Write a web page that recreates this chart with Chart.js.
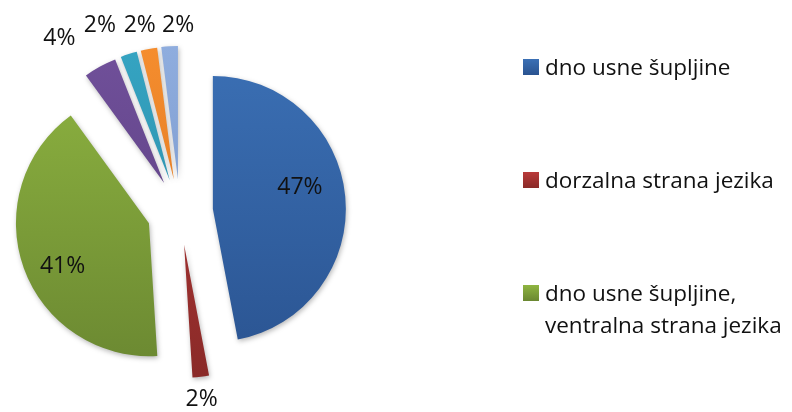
<!DOCTYPE html>
<html>
<head>
<meta charset="utf-8">
<script src="https://cdn.jsdelivr.net/npm/chart.js@4.4.1/dist/chart.umd.min.js"></script>
<style>
  body { margin: 0; background: #fff; font-family: 'Open Sans', Lato, sans-serif; }
  #wrap { position: relative; width: 792px; height: 412px; }
  #legend .item { position: absolute; left: 523px; width: 269px; display: flex; align-items: flex-start; }
  #legend .box { width: 16px; height: 16px; margin-top: 8px; margin-right: 6px; flex: none; }
  #legend .txt { font-size: 22.5px; line-height: 32px; color: #111; }
</style>
</head>
<body>
<div id="wrap">
  <canvas id="pie" width="792" height="412"></canvas>
  <div id="legend"></div>
</div>
<script>
const categories = [
  'dno usne šupljine',
  'dorzalna strana jezika',
  'dno usne šupljine, ventralna strana jezika',
  '', '', '', ''
];
const shares = [47, 2, 41, 4, 2, 2, 2];
const topColors = ['#3b70b5', '#b93a3a', '#8fb541', '#70509a', '#35a4c2', '#f58d2e', '#8fadde'];
const bottomColors = ['#2a5390', '#8a2a28', '#6a8731', '#573b7b', '#2a84a0', '#d6711e', '#6f8ec4'];
const legendCount = 3;

const RADIUS = 133;
const EXPLODE = 33;

// shift every slice outward along its mid angle (Excel style exploded pie)
const explode = {
  id: 'explode',
  afterDatasetsUpdate(chart) {
    chart.getDatasetMeta(0).data.forEach(arc => {
      const mid = (arc.startAngle + arc.endAngle) / 2;
      arc.x += Math.cos(mid) * EXPLODE;
      arc.y += Math.sin(mid) * EXPLODE;
    });
  }
};

const labelNudge = [[1, -13], [-2, 1], [-5, 14], [-30, -9], [-22, -8], [-5, -2], [10, 1]];

const shadowAndLabels = {
  id: 'shadowAndLabels',
  beforeDatasetsDraw(chart) {
    const ctx = chart.ctx;
    ctx.save();
    ctx.shadowColor = 'rgba(0,0,0,0.28)';
    ctx.shadowBlur = 5;
    ctx.shadowOffsetX = 1;
    ctx.shadowOffsetY = 2;
  },
  afterDatasetsDraw(chart) {
    const ctx = chart.ctx;
    ctx.restore();
    ctx.save();
    ctx.font = "23px 'Open Sans'";
    ctx.fillStyle = '#111';
    ctx.textAlign = 'center';
    ctx.textBaseline = 'middle';
    chart.getDatasetMeta(0).data.forEach((arc, i) => {
      const mid = (arc.startAngle + arc.endAngle) / 2;
      const dist = shares[i] > 10 ? arc.outerRadius * 0.65 : arc.outerRadius + 22;
      const x = arc.x + Math.cos(mid) * dist + labelNudge[i][0];
      const y = arc.y + Math.sin(mid) * dist + labelNudge[i][1];
      ctx.fillText(shares[i] + '%', x, y);
    });
    ctx.restore();
  }
};

function sliceFill(c) {
  const chart = c.chart;
  const area = chart.chartArea;
  if (!area) return topColors[c.dataIndex];
  const cy = (area.top + area.bottom) / 2;
  const g = chart.ctx.createLinearGradient(0, cy - RADIUS - EXPLODE, 0, cy + RADIUS + EXPLODE);
  g.addColorStop(0, topColors[c.dataIndex]);
  g.addColorStop(1, bottomColors[c.dataIndex]);
  return g;
}

new Chart(document.getElementById('pie'), {
  type: 'pie',
  data: {
    labels: categories,
    datasets: [{
      data: shares,
      backgroundColor: sliceFill,
      borderWidth: 0
    }]
  },
  options: {
    responsive: false,
    animation: false,
    radius: RADIUS,
    layout: { padding: { left: 0, right: 432, top: 12, bottom: 0 } },
    plugins: {
      legend: { display: false },
      tooltip: { enabled: false }
    }
  },
  plugins: [explode, shadowAndLabels]
});

// legend only lists the first categories, like the original
const legendTops = [51, 164, 277];
document.getElementById('legend').innerHTML = categories.slice(0, legendCount).map((name, i) =>
  `<div class="item" style="top:${legendTops[i]}px">
     <div class="box" style="background:linear-gradient(${topColors[i]}, ${bottomColors[i]})"></div>
     <div class="txt">${name}</div>
   </div>`).join('');
</script>
</body>
</html>
